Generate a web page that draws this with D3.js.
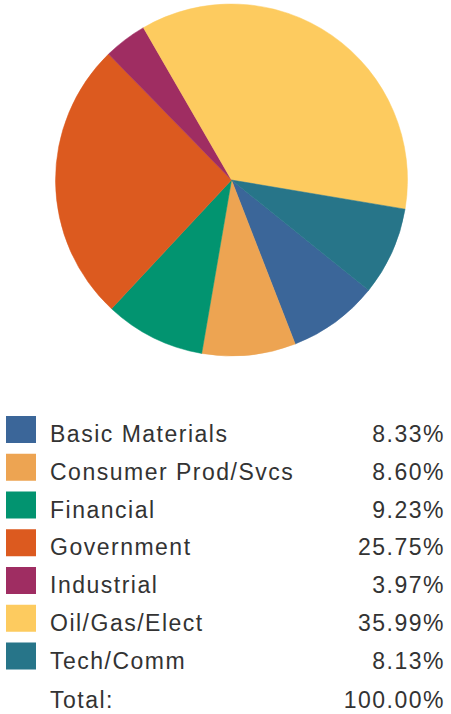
<!DOCTYPE html>
<html>
<head>
<meta charset="utf-8">
<script src="https://cdn.jsdelivr.net/npm/d3@7"></script>
<style>
  body { margin: 0; background: #fff; }
  svg { display: block; }
</style>
</head>
<body>
<div id="chart"></div>
<script>
var sectors = ["Basic Materials", "Consumer Prod/Svcs", "Financial", "Government", "Industrial", "Oil/Gas/Elect", "Tech/Comm"];
var shares = [8.33, 8.60, 9.23, 25.75, 3.97, 35.99, 8.13];
var colors = ["#3b6699", "#eda452", "#029470", "#dc5a1f", "#9f2d62", "#fdcb5f", "#277589"];
var totalLabel = "Total:";
var totalValue = "100.00%";

var svgWidth = 451;
var svgHeight = 714;

var svg = d3.select("#chart")
    .append("svg")
    .attr("width", svgWidth)
    .attr("height", svgHeight);

// pie
var cx = 231.5, cy = 180, radius = 176;
var start = 128.8 * Math.PI / 180;

var pie = d3.pie()
    .sort(null)
    .value(d => d.value)
    .startAngle(start)
    .endAngle(start + 2 * Math.PI);

var arc = d3.arc()
    .innerRadius(0)
    .outerRadius(radius);

var data = sectors.map((s, i) => ({ name: s, value: shares[i], color: colors[i] }));

var pieGroup = svg.append("g")
    .attr("transform", `translate(${cx}, ${cy})`);

pieGroup.selectAll("path")
    .data(pie(data))
    .enter()
    .append("path")
    .attr("d", arc)
    .attr("fill", d => d.data.color)
    .attr("stroke", d => d.data.color)
    .attr("stroke-width", 0.5);

// legend
var rowY = d3.scaleLinear()
    .domain([0, 6])
    .range([442, 668.5]);

var legend = svg.append("g")
    .style("font-family", "'Liberation Sans', Arial, sans-serif")
    .style("font-size", "23px")
    .style("letter-spacing", "1.5px")
    .attr("fill", "#333");

var rows = legend.selectAll("g.row")
    .data(data)
    .enter()
    .append("g")
    .attr("class", "row")
    .attr("transform", (d, i) => `translate(0, ${rowY(i)})`);

rows.append("rect")
    .attr("x", 6)
    .attr("y", -26)
    .attr("width", 30)
    .attr("height", 27)
    .attr("fill", d => d.color);

rows.append("text")
    .attr("x", 50)
    .attr("y", 0)
    .text(d => d.name);

rows.append("text")
    .attr("x", 445)
    .attr("y", 0)
    .attr("text-anchor", "end")
    .text(d => d.value.toFixed(2) + "%");

legend.append("text")
    .attr("x", 50)
    .attr("y", 708)
    .text(totalLabel);

legend.append("text")
    .attr("x", 445)
    .attr("y", 708)
    .attr("text-anchor", "end")
    .text(totalValue);
</script>
</body>
</html>
